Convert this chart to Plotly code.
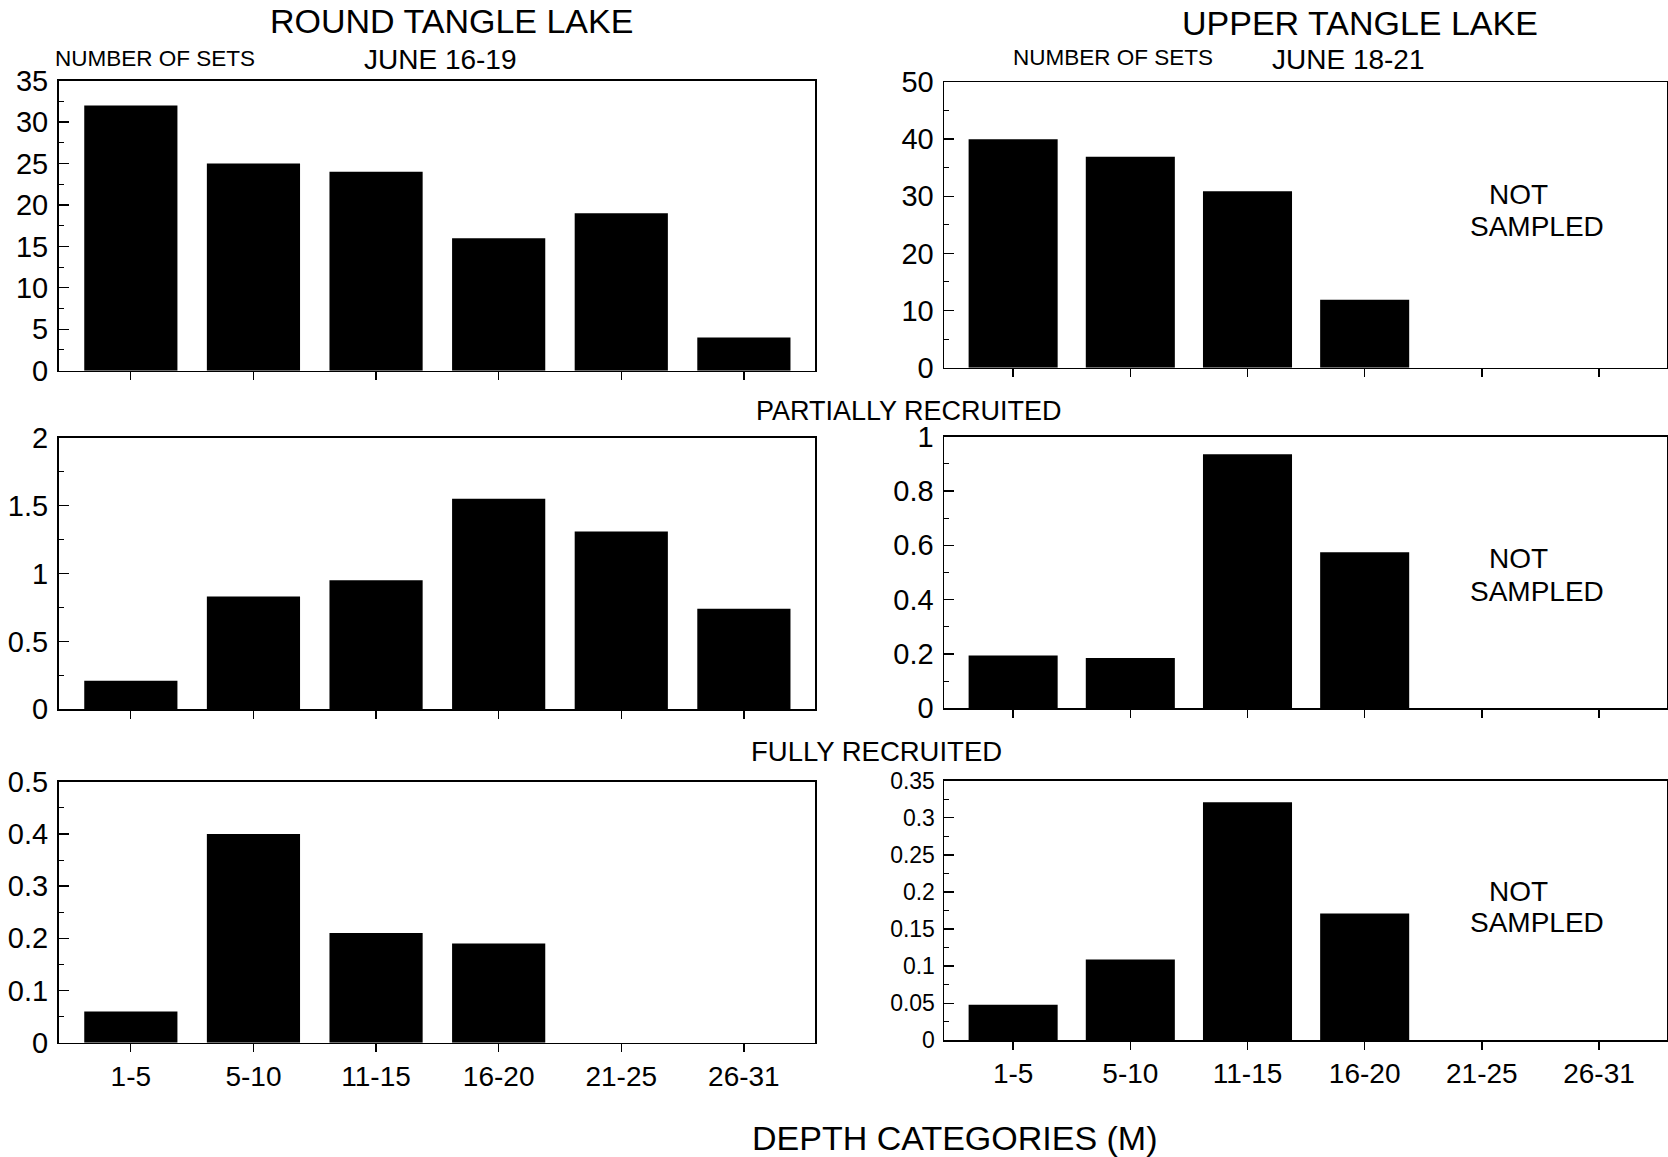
import plotly.graph_objects as go

W, H = 1668, 1157
categories = ["1-5", "5-10", "11-15", "16-20", "21-25", "26-31"]

round_sets = [32, 25, 24, 16, 19, 4]
round_partial = [0.21, 0.83, 0.95, 1.55, 1.31, 0.74]
round_full = [0.06, 0.40, 0.21, 0.19, None, None]

upper_sets = [40, 36.9, 30.9, 11.9, None, None]
upper_partial = [0.194, 0.185, 0.935, 0.575, None, None]
upper_full = [0.048, 0.109, 0.321, 0.171, None, None]

FONT = "Liberation Sans, Arial, Helvetica, sans-serif"

def px_x(v):
    return v / W

def px_y(v):
    return 1 - v / H

# panel boxes in pixels: (left, right, top, bottom)
panels = [
    (58.5, 815, 80.7, 370.7),     # top-left
    (944, 1667, 82, 367.7),       # top-right
    (58.5, 815, 437.7, 709.3),    # mid-left
    (944, 1667, 436.7, 708.3),    # mid-right
    (58.5, 815, 781.7, 1042.7),   # bottom-left
    (944, 1667, 780.7, 1040.3),   # bottom-right
]
series = [round_sets, upper_sets, round_partial, upper_partial, round_full, upper_full]
yranges = [(0, 35), (0, 50), (0, 2), (0, 1), (0, 0.5), (0, 0.35)]
dticks = [5, 10, 0.5, 0.2, 0.1, 0.05]
yfont = [29, 29, 29, 29, 29, 23]

fig = go.Figure()
layout = dict(
    template="none",
    width=W, height=H, autosize=False,
    margin=dict(l=0, r=0, t=0, b=0, pad=0, autoexpand=False),
    paper_bgcolor="white", plot_bgcolor="white",
    showlegend=False,
    font=dict(family=FONT, color="black"),
)

for i, (box, vals) in enumerate(zip(panels, series)):
    n = i + 1
    xa = "x" if n == 1 else f"x{n}"
    ya = "y" if n == 1 else f"y{n}"
    fig.add_trace(go.Bar(
        x=categories, y=vals, xaxis=xa, yaxis=ya,
        marker=dict(color="black", line=dict(width=0)),
        width=0.76,
    ))
    l, r, t, b = box
    bottom_row = i >= 4
    layout[f"xaxis{'' if n == 1 else n}"] = dict(
        domain=[px_x(l), px_x(r)],
        anchor=ya,
        type="category",
        categoryorder="array", categoryarray=categories,
        range=[-0.59, 5.58],
        automargin=False,
        showline=True, linecolor="black", linewidth=1.5, mirror=True,
        ticks="outside", ticklen=8, tickwidth=1.3, tickcolor="black",
        showticklabels=bottom_row,
        tickfont=dict(size=28, family=FONT, color="black"),
        showgrid=False, zeroline=False,
        fixedrange=True,
    )
    layout[f"yaxis{'' if n == 1 else n}"] = dict(
        domain=[px_y(b), px_y(t)],
        anchor=xa,
        range=list(yranges[i]),
        dtick=dticks[i], tick0=0,
        automargin=False,
        showline=True, linecolor="black", linewidth=1.5, mirror=True,
        ticks="inside", ticklen=10, tickwidth=1.3, tickcolor="black",
        ticklabelstandoff=3,
        minor=dict(ticks="inside", ticklen=5, dtick=dticks[i] / 2, tickcolor="black", tickwidth=1),
        tickfont=dict(size=yfont[i], family=FONT, color="black"),
        showgrid=False, zeroline=False,
        fixedrange=True,
    )

fig.update_layout(**layout)

def label(text, x, y, size, xanchor="center"):
    fig.add_annotation(
        text=text, xref="paper", yref="paper",
        x=px_x(x), y=px_y(y), xanchor=xanchor, yanchor="middle",
        showarrow=False, font=dict(size=size, family=FONT, color="black"),
    )

label("ROUND TANGLE LAKE", 452, 21, 34)
label("NUMBER OF SETS", 53, 58.5, 22.5, xanchor="left")
label("JUNE 16-19", 440, 59.6, 28)
label("UPPER TANGLE LAKE", 1360, 23, 34)
label("NUMBER OF SETS", 1113, 58, 22.5)
label("JUNE 18-21", 1348, 59.6, 28)
label("PARTIALLY RECRUITED", 909, 411, 27)
label("FULLY RECRUITED", 877, 751, 27.5)
label("DEPTH CATEGORIES (M)", 955, 1138, 34)

for ny, sy in [(194, 227), (558.5, 591.5), (891.5, 923)]:
    label("NOT", 1487, ny, 28, xanchor="left")
    label("SAMPLED", 1468, sy, 28, xanchor="left")

fig.write_html(
    "out.html",
    config={"displayModeBar": False, "staticPlot": True},
    post_script="document.body.style.margin='0px';document.body.style.overflow='hidden';",
)
